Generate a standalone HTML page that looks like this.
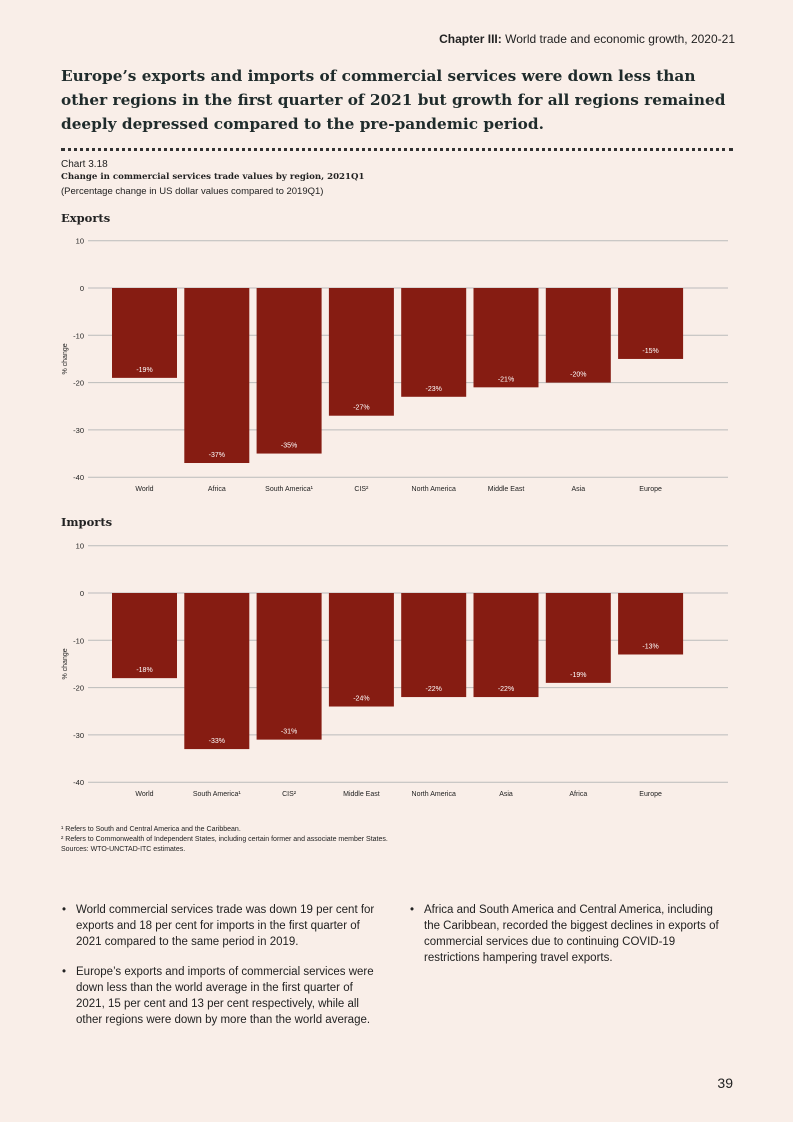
<!DOCTYPE html>
<html><head><meta charset="utf-8"><style>
body{margin:0;background:#f9eee8;}
#page{position:relative;width:793px;height:1122px;background:#f9eee8;font-family:"Liberation Sans",sans-serif;color:#222;overflow:hidden}
.abs{position:absolute}
.serif{font-family:"DejaVu Serif",serif}
ul{margin:0;padding:0;list-style:none}
li{position:relative;padding-left:16px;margin-bottom:14px;font-size:11.5px;line-height:16px;color:#222}
li:before{content:"•";position:absolute;left:2px}
</style></head><body>
<div id="page">
<div class="abs" style="right:58px;top:32px;font-size:12px"><b>Chapter III:</b> World trade and economic growth, 2020-21</div>
<div class="abs serif" style="left:61px;top:64px;white-space:nowrap;font-size:15.3px;font-weight:bold;line-height:24px;color:#1f2b2b">Europe’s exports and imports of commercial services were down less than<br>other regions in the first quarter of 2021 but growth for all regions remained<br>deeply depressed compared to the pre-pandemic period.</div>
<div class="abs" style="left:61px;top:148px;width:672px;border-top:3px dotted #333"></div>
<div class="abs" style="left:61px;top:159px;font-size:10px">Chart 3.18</div>
<div class="abs serif" style="left:61px;top:172px;font-size:8.6px;font-weight:bold">Change in commercial services trade values by region, 2021Q1</div>
<div class="abs" style="left:61px;top:186px;font-size:9.5px">(Percentage change in US dollar values compared to 2019Q1)</div>
<div class="abs serif" style="left:61px;top:211px;font-size:11.5px;font-weight:bold">Exports</div>
<div class="abs serif" style="left:61px;top:515px;font-size:11.5px;font-weight:bold">Imports</div>
<svg id="chart" class="abs" style="left:0;top:0" width="793" height="1122"></svg>
<div class="abs" style="left:61px;top:825px;font-size:7px;line-height:10px">¹ Refers to South and Central America and the Caribbean.<br>² Refers to Commonwealth of Independent States, including certain former and associate member States.<br>Sources: WTO-UNCTAD-ITC estimates.</div>
<ul class="abs" style="left:60px;top:902px;width:318px">
<li>World commercial services trade was down 19 per cent for exports and 18 per cent for imports in the first quarter of 2021 compared to the same period in 2019.</li>
<li>Europe’s exports and imports of commercial services were down less than the world average in the first quarter of 2021, 15 per cent and 13 per cent respectively, while all other regions were down by more than the world average.</li>
</ul>
<ul class="abs" style="left:408px;top:902px;width:320px">
<li>Africa and South America and Central America, including the Caribbean, recorded the biggest declines in exports of commercial services due to continuing COVID-19 restrictions hampering travel exports.</li>
</ul>
<div class="abs" style="right:60px;top:1075px;font-size:14px">39</div>
</div>
<script>
const exportCats=["World","Africa","South America¹","CIS²","North America","Middle East","Asia","Europe"];
const exportVals=[-19,-37,-35,-27,-23,-21,-20,-15];
const importCats=["World","South America¹","CIS²","Middle East","North America","Asia","Africa","Europe"];
const importVals=[-18,-33,-31,-24,-22,-22,-19,-13];
const ticks=[10,0,-10,-20,-30,-40];
const NS="http://www.w3.org/2000/svg";
const svg=document.getElementById('chart');
function mk(t,a){const e=document.createElementNS(NS,t);for(const k in a)e.setAttribute(k,a[k]);svg.appendChild(e);return e;}
function draw(cats,vals,zeroY,prefix){
  const s=4.73;
  const y=v=>zeroY-v*s;
  ticks.forEach(t=>{
    const l=mk('line',{x1:88,x2:728,y1:y(t),y2:y(t),stroke:'#bbb','stroke-width':1});
    
    
    const tx=mk('text',{x:84,y:y(t)+3,'text-anchor':'end','font-size':7.5,fill:'#222'});
    tx.textContent=t;
    
    
  });
  const yt=mk('text',{x:0,y:0,transform:`translate(67,${y(-15)}) rotate(-90)`,'text-anchor':'middle','font-size':7,fill:'#222'});
  yt.textContent='% change';
  
  
  cats.forEach((c,i)=>{
    const x=112+i*72.3, w=65, v=vals[i];
    const r=mk('rect',{x:x,y:y(0),width:w,height:y(v)-y(0),fill:'#861c12'});
    
    
    const lb=mk('text',{x:x+w/2,y:y(v)-6,'text-anchor':'middle','font-size':7,fill:'#fff'});
    lb.textContent=v+'%';
    
    
    const cl=mk('text',{x:x+w/2,y:y(-40)+14,'text-anchor':'middle','font-size':7,fill:'#222'});
    cl.textContent=c;
    
    
  });
}
draw(exportCats,exportVals,288,'exports');
draw(importCats,importVals,593,'imports');
</script>
</body></html>
